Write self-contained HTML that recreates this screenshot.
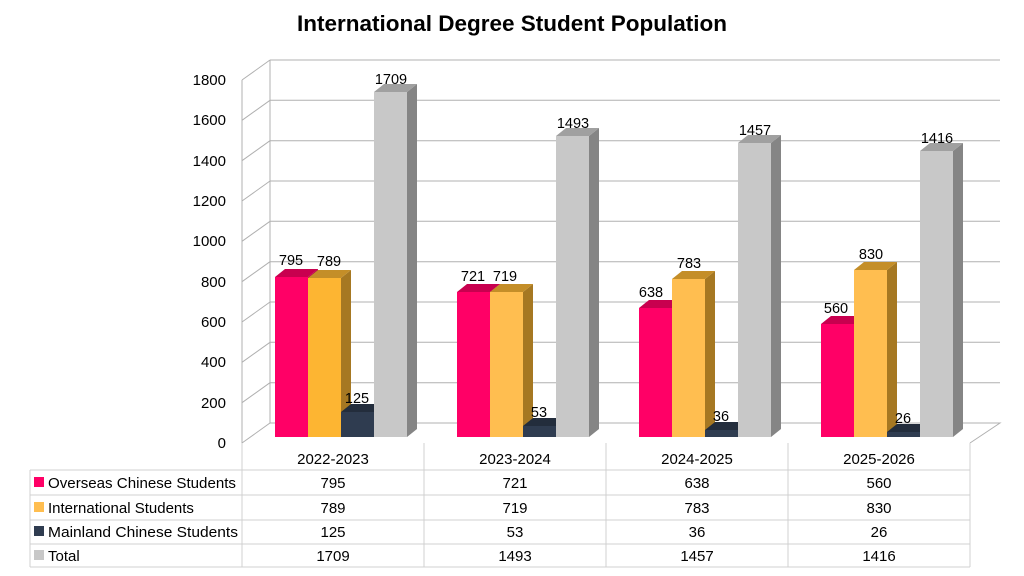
<!DOCTYPE html>
<html><head><meta charset="utf-8"><style>
body{margin:0;background:#fff}
svg{display:block;font-family:"Liberation Sans",sans-serif}
</style></head><body>
<svg width="1024" height="576" viewBox="0 0 1024 576" xmlns="http://www.w3.org/2000/svg">
<text x="512" y="31" text-anchor="middle" font-size="22.5" font-weight="bold">International Degree Student Population</text>
<g stroke="#b0b0b0" stroke-width="1" fill="none">
<path d="M242,443 L270,423 L1000,423 L970,443"/>
<path d="M242,80 V443 M270,60 V423"/>
<path d="M270,382.7H1000M270,342.3H1000M270,302H1000M270,261.7H1000M270,221.3H1000M270,181H1000M270,140.7H1000M270,100.3H1000M270,60H1000"/>
<path d="M242,402.7L270,382.7M242,362.3L270,342.3M242,322L270,302M242,281.7L270,261.7M242,241.3L270,221.3M242,201L270,181M242,160.7L270,140.7M242,120.3L270,100.3M242,80L270,60"/>
</g>
<g font-size="15" text-anchor="end" fill="#000">
<text x="226" y="448">0</text><text x="226" y="408">200</text><text x="226" y="367">400</text><text x="226" y="327">600</text><text x="226" y="287">800</text><text x="226" y="246">1000</text><text x="226" y="206">1200</text><text x="226" y="166">1400</text><text x="226" y="125">1600</text><text x="226" y="85">1800</text>
</g>
<g>
<rect x="275" y="277" width="33" height="160" fill="#FF0066"/><polygon points="308,277 318,269 318,429 308,437" fill="#B80048"/><polygon points="275,277 285,269 318,269 308,277" fill="#C8004F"/>
<rect x="308" y="278" width="33" height="159" fill="#FDB532"/><polygon points="341,278 351,270 351,429 341,437" fill="#A67822"/><polygon points="308,278 318,270 351,270 341,278" fill="#C48E28"/>
<rect x="341" y="412" width="33" height="25" fill="#2F3C50"/><polygon points="374,412 384,404 384,429 374,437" fill="#1E2838"/><polygon points="341,412 351,404 384,404 374,412" fill="#232D3C"/>
<rect x="374" y="92" width="33" height="345" fill="#C8C8C8"/><polygon points="407,92 417,84 417,429 407,437" fill="#858585"/><polygon points="374,92 384,84 417,84 407,92" fill="#A0A0A0"/>
</g>
<g transform="translate(182,0)">
<rect x="275" y="292" width="33" height="145" fill="#FF0066"/><polygon points="308,292 318,284 318,429 308,437" fill="#B80048"/><polygon points="275,292 285,284 318,284 308,292" fill="#C8004F"/>
<rect x="308" y="292" width="33" height="145" fill="#FFBE50"/><polygon points="341,292 351,284 351,429 341,437" fill="#A67822"/><polygon points="308,292 318,284 351,284 341,292" fill="#C48E28"/>
<rect x="341" y="426" width="33" height="11" fill="#2F3C50"/><polygon points="374,426 384,418 384,429 374,437" fill="#1E2838"/><polygon points="341,426 351,418 384,418 374,426" fill="#232D3C"/>
<rect x="374" y="136" width="33" height="301" fill="#C8C8C8"/><polygon points="407,136 417,128 417,429 407,437" fill="#858585"/><polygon points="374,136 384,128 417,128 407,136" fill="#A0A0A0"/>
</g>
<g transform="translate(364,0)">
<rect x="275" y="308" width="33" height="129" fill="#FF0066"/><polygon points="308,308 318,300 318,429 308,437" fill="#B80048"/><polygon points="275,308 285,300 318,300 308,308" fill="#C8004F"/>
<rect x="308" y="279" width="33" height="158" fill="#FFBE50"/><polygon points="341,279 351,271 351,429 341,437" fill="#A67822"/><polygon points="308,279 318,271 351,271 341,279" fill="#C48E28"/>
<rect x="341" y="430" width="33" height="7" fill="#2F3C50"/><polygon points="374,430 384,422 384,429 374,437" fill="#1E2838"/><polygon points="341,430 351,422 384,422 374,430" fill="#232D3C"/>
<rect x="374" y="143" width="33" height="294" fill="#C8C8C8"/><polygon points="407,143 417,135 417,429 407,437" fill="#858585"/><polygon points="374,143 384,135 417,135 407,143" fill="#A0A0A0"/>
</g>
<g transform="translate(546,0)">
<rect x="275" y="324" width="33" height="113" fill="#FF0066"/><polygon points="308,324 318,316 318,429 308,437" fill="#B80048"/><polygon points="275,324 285,316 318,316 308,324" fill="#C8004F"/>
<rect x="308" y="270" width="33" height="167" fill="#FFBE50"/><polygon points="341,270 351,262 351,429 341,437" fill="#A67822"/><polygon points="308,270 318,262 351,262 341,270" fill="#C48E28"/>
<rect x="341" y="432" width="33" height="5" fill="#2F3C50"/><polygon points="374,432 384,424 384,429 374,437" fill="#1E2838"/><polygon points="341,432 351,424 384,424 374,432" fill="#232D3C"/>
<rect x="374" y="151" width="33" height="286" fill="#C8C8C8"/><polygon points="407,151 417,143 417,429 407,437" fill="#858585"/><polygon points="374,151 384,143 417,143 407,151" fill="#A0A0A0"/>
</g>
<g font-size="14.5" text-anchor="middle" fill="#000">
<text x="291" y="265">795</text><text x="329" y="266">789</text><text x="357" y="403">125</text><text x="391" y="84">1709</text>
<text x="473" y="281">721</text><text x="505" y="281">719</text><text x="539" y="417">53</text><text x="573" y="128">1493</text>
<text x="651" y="297">638</text><text x="689" y="268">783</text><text x="721" y="421">36</text><text x="755" y="135">1457</text>
<text x="836" y="313">560</text><text x="871" y="259">830</text><text x="903" y="423">26</text><text x="937" y="143">1416</text>
</g>
<g stroke="#d0d0d0" stroke-width="1" fill="none">
<path d="M242,443V567M424,443V567M606,443V567M788,443V567M970,443V567M30,470V567"/>
<path d="M30,470H970M30,495H970M30,520H970M30,544H970M30,567H970"/>
</g>
<rect x="34" y="477" width="10" height="10" fill="#FF0066"/>
<rect x="34" y="502" width="10" height="10" fill="#FFBE50"/>
<rect x="34" y="526" width="10" height="10" fill="#2F3C50"/>
<rect x="34" y="550" width="10" height="10" fill="#C8C8C8"/>
<g font-size="15" fill="#000">
<text x="48" y="488" textLength="188" lengthAdjust="spacingAndGlyphs">Overseas Chinese Students</text>
<text x="48" y="513">International Students</text>
<text x="48" y="537" textLength="190" lengthAdjust="spacingAndGlyphs">Mainland Chinese Students</text>
<text x="48" y="561">Total</text>
</g>
<g font-size="15" fill="#000" text-anchor="middle">
<text x="333" y="464">2022-2023</text><text x="515" y="464">2023-2024</text><text x="697" y="464">2024-2025</text><text x="879" y="464">2025-2026</text>
<text x="333" y="488">795</text><text x="515" y="488">721</text><text x="697" y="488">638</text><text x="879" y="488">560</text>
<text x="333" y="513">789</text><text x="515" y="513">719</text><text x="697" y="513">783</text><text x="879" y="513">830</text>
<text x="333" y="537">125</text><text x="515" y="537">53</text><text x="697" y="537">36</text><text x="879" y="537">26</text>
<text x="333" y="561">1709</text><text x="515" y="561">1493</text><text x="697" y="561">1457</text><text x="879" y="561">1416</text>
</g>
</svg>
</body></html>
